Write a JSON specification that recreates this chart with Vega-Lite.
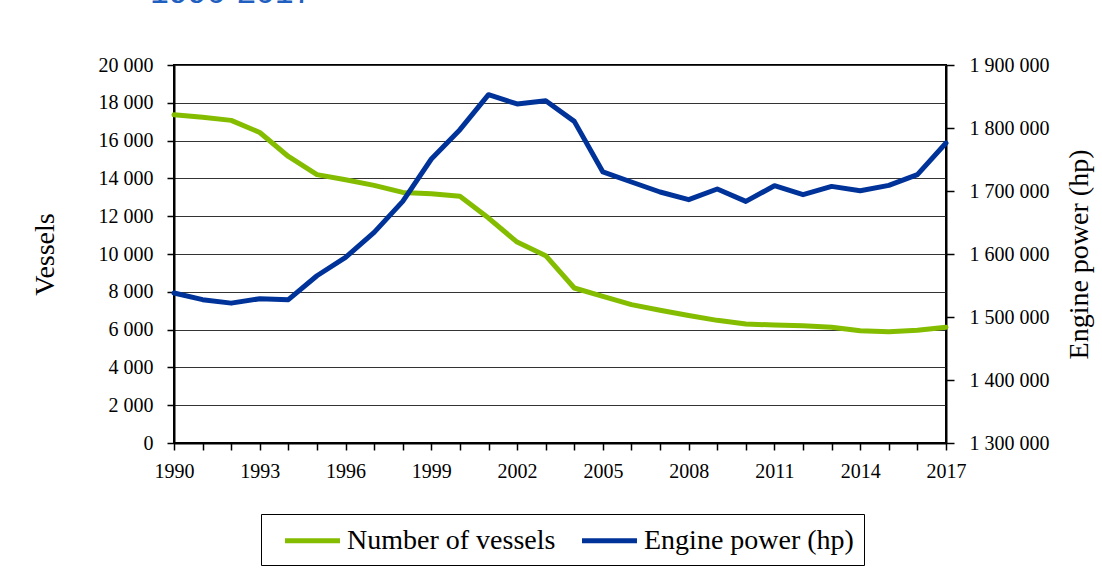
{
  "$schema": "https://vega.github.io/schema/vega-lite/v6.json",
  "width": 772,
  "height": 378,
  "autosize": "none",
  "padding": {"left": 174, "top": 65, "right": 156, "bottom": 134},
  "background": "white",
  "title": {
    "text": "1990-2017",
    "anchor": "start",
    "frame": "group",
    "dx": -24,
    "offset": 18,
    "fontSize": 34,
    "font": "Liberation Sans",
    "fontWeight": "normal",
    "color": "#1F5FBF",
    "baseline": "alphabetic"
  },
  "data": {
    "values": [
      {"year": 1990, "vessels": 17370, "power": 1538000},
      {"year": 1991, "vessels": 17230, "power": 1527500},
      {"year": 1992, "vessels": 17070, "power": 1522000},
      {"year": 1993, "vessels": 16430, "power": 1529000},
      {"year": 1994, "vessels": 15160, "power": 1527500},
      {"year": 1995, "vessels": 14200, "power": 1565500},
      {"year": 1996, "vessels": 13930, "power": 1594600},
      {"year": 1997, "vessels": 13630, "power": 1634300},
      {"year": 1998, "vessels": 13260, "power": 1683500},
      {"year": 1999, "vessels": 13190, "power": 1750800},
      {"year": 2000, "vessels": 13050, "power": 1797300},
      {"year": 2001, "vessels": 11900, "power": 1852900},
      {"year": 2002, "vessels": 10630, "power": 1838100},
      {"year": 2003, "vessels": 9910, "power": 1843300},
      {"year": 2004, "vessels": 8200, "power": 1810500},
      {"year": 2005, "vessels": 7760, "power": 1730200},
      {"year": 2006, "vessels": 7320, "power": 1714300},
      {"year": 2007, "vessels": 7020, "power": 1698400},
      {"year": 2008, "vessels": 6750, "power": 1686200},
      {"year": 2009, "vessels": 6490, "power": 1703200},
      {"year": 2010, "vessels": 6300, "power": 1683500},
      {"year": 2011, "vessels": 6240, "power": 1708400},
      {"year": 2012, "vessels": 6210, "power": 1694100},
      {"year": 2013, "vessels": 6120, "power": 1707300},
      {"year": 2014, "vessels": 5940, "power": 1700500},
      {"year": 2015, "vessels": 5890, "power": 1708900},
      {"year": 2016, "vessels": 5960, "power": 1725900},
      {"year": 2017, "vessels": 6120, "power": 1776200}
    ]
  },
  "encoding": {
    "x": {
      "field": "year",
      "type": "quantitative",
      "scale": {"domain": [1990, 2017], "nice": false, "zero": false},
      "axis": {
        "title": null,
        "values": [1990,1991,1992,1993,1994,1995,1996,1997,1998,1999,2000,2001,2002,2003,2004,2005,2006,2007,2008,2009,2010,2011,2012,2013,2014,2015,2016,2017],
        "labelExpr": "(datum.value - 1990) % 3 == 0 ? '' + datum.value : ''",
        "grid": false,
        "tickSize": 7,
        "labelPadding": 11,
        "labelFont": "Liberation Serif",
        "labelFlush": false,
        "labelOverlap": false
      }
    }
  },
  "layer": [
    {
      "mark": {"type": "line", "strokeWidth": 5, "strokeCap": "round", "strokeJoin": "round"},
      "encoding": {
        "y": {
          "field": "vessels",
          "type": "quantitative",
          "scale": {"domain": [0, 20000], "nice": false},
          "axis": {
            "title": "Vessels",
            "values": [0,2000,4000,6000,8000,10000,12000,14000,16000,18000,20000],
            "labelExpr": "replace(format(datum.value, ','), regexp(',', 'g'), ' ')",
            "labelFont": "Liberation Serif",
            "grid": true,
            "tickSize": 7,
            "labelPadding": 14,
            "titlePadding": 39,
            "titleFontSize": 28,
            "titleAngle": -90
          }
        },
        "color": {"datum": "Number of vessels", "type": "nominal"}
      }
    },
    {
      "mark": {"type": "line", "strokeWidth": 5, "strokeCap": "round", "strokeJoin": "round"},
      "encoding": {
        "y": {
          "field": "power",
          "type": "quantitative",
          "scale": {"domain": [1300000, 1900000], "nice": false, "zero": false},
          "axis": {
            "orient": "right",
            "title": "Engine power (hp)",
            "values": [1300000,1400000,1500000,1600000,1700000,1800000,1900000],
            "labelExpr": "replace(format(datum.value, ','), regexp(',', 'g'), ' ')",
            "labelFont": "Liberation Serif",
            "grid": false,
            "tickSize": 8,
            "labelPadding": 15,
            "titlePadding": 16,
            "titleFontSize": 28,
            "titleAngle": -90,
            "titleBaseline": "top"
          }
        },
        "color": {"datum": "Engine power (hp)", "type": "nominal"}
      }
    }
  ],
  "resolve": {"scale": {"y": "independent"}},
  "config": {
    "font": "Liberation Serif",
    "style": {
      "guide-label": {"font": "Liberation Serif"},
      "guide-title": {"font": "Liberation Serif"}
    },
    "view": {"stroke": "black", "strokeWidth": 2},
    "axis": {
      "labelFont": "Liberation Serif",
      "labelFontSize": 20,
      "labelColor": "black",
      "titleFont": "Liberation Serif",
      "titleFontWeight": "normal",
      "titleColor": "black",
      "domainColor": "black",
      "domainWidth": 2,
      "tickColor": "black",
      "tickWidth": 1.5,
      "gridColor": "#333333",
      "gridWidth": 1,
      "gridOpacity": 1
    },
    "range": {"category": ["#84BD00", "#003399"]},
    "legend": {
      "orient": "none",
      "legendX": 87,
      "legendY": 449,
      "direction": "horizontal",
      "title": null,
      "strokeColor": "black",
      "strokeWidth": 1,
      "padding": 10,
      "symbolType": "M-2,0H2",
      "symbolSize": 756,
      "symbolStrokeWidth": 5,
      "symbolOffset": 25,
      "labelFont": "Liberation Serif",
      "labelFontSize": 28,
      "labelColor": "black",
      "labelOffset": 18,
      "columnPadding": 12,
      "labelLimit": 400
    }
  }
}
